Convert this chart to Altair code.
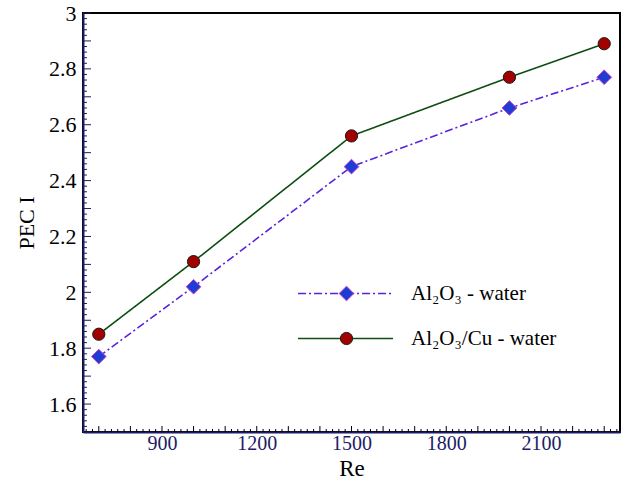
import altair as alt
import pandas as pd

# Reynolds numbers and PEC I values for both nanofluids
re_values = [700, 1000, 1500, 2000, 2300]
pec_al2o3 = [1.77, 2.02, 2.45, 2.66, 2.77]
pec_hybrid = [1.85, 2.11, 2.56, 2.77, 2.89]
series_names = ["Al₂O₃ - water", "Al₂O₃/Cu - water"]

# axis labels
x_labels = [900, 1200, 1500, 1800, 2100]
y_labels = [1.6, 1.8, 2.0, 2.2, 2.4, 2.6, 2.8, 3.0]

# inward tick marks (major / minor)
x_major = list(range(700, 2301, 100))
x_minor = [v for v in range(660, 2350, 20) if v % 100]
y_major = [round(1.5 + 0.1 * i, 2) for i in range(16)]
y_minor = [round(1.5 + 0.02 * i, 2) for i in range(76) if i % 5]

rows = []
for name, vals in zip(series_names, [pec_al2o3, pec_hybrid]):
    for r, p in zip(re_values, vals):
        rows.append({"re": r, "pec": p, "series": name, "marker": name})
df = pd.DataFrame(rows)

W, H = 537, 419
FONT = "Liberation Serif"
NAVY = "#1c1c66"
DIAMOND = "M0,-1.2L1.2,0L0,1.2L-1.2,0Z"

xs = alt.Scale(domain=[650, 2350], nice=False, zero=False)
ys = alt.Scale(domain=[1.5, 3.0], nice=False, zero=False)

x_axis = alt.Axis(values=x_labels, title="Re", format="d", ticks=False, tickSize=0,
                  grid=False, labelColor=NAVY, labelFont=FONT, labelFontSize=20,
                  labelPadding=1, titleFont=FONT, titleFontSize=23,
                  titleFontWeight="normal", titleColor="black", titlePadding=4,
                  domainColor=NAVY, domainWidth=2)
y_axis = alt.Axis(values=y_labels, title="PEC I", format="~g", ticks=False, tickSize=0,
                  grid=False, labelColor="black", labelFont=FONT, labelFontSize=22,
                  labelPadding=7, titleFont=FONT, titleFontSize=22,
                  titleFontWeight="normal", titleColor="black", titlePadding=10,
                  domainColor=NAVY, domainWidth=2)


def y_ticks(values, length):
    return alt.Chart(pd.DataFrame({"v": values})).mark_rule(
        color=NAVY, strokeWidth=1).encode(
        y=alt.Y("v:Q", scale=ys, axis=y_axis),
        x=alt.value(0), x2=alt.value(length))


def x_ticks(values, length):
    return alt.Chart(pd.DataFrame({"v": values})).mark_rule(
        color="black", strokeWidth=1).encode(
        x=alt.X("v:Q", scale=xs, axis=x_axis),
        y=alt.value(H), y2=alt.value(H - length))


line_legend = alt.Legend(title=None, orient="none", legendX=252, legendY=270,
                         symbolType="M-7,0L7,0", symbolSize=184, symbolStrokeWidth=1.5,
                         labelFont=FONT, labelFontSize=21, labelColor="black",
                         labelOffset=55, rowPadding=23)
point_legend = alt.Legend(title=None, orient="none", legendX=253, legendY=270,
                          symbolSize=150, symbolStrokeWidth=1, labelFont=FONT,
                          labelFontSize=21, labelOpacity=0, labelOffset=55,
                          rowPadding=23)

lines = alt.Chart(df).mark_line(strokeWidth=1.6).encode(
    x=alt.X("re:Q", scale=xs, axis=x_axis),
    y=alt.Y("pec:Q", scale=ys, axis=y_axis),
    color=alt.Color("series:N", scale=alt.Scale(domain=series_names,
                                                range=["#5a22dc", "#0d4d12"]),
                    legend=line_legend),
    strokeDash=alt.StrokeDash("series:N", scale=alt.Scale(domain=series_names,
                                                          range=[[8, 3, 2, 3], [1, 0]]),
                              legend=line_legend),
)

points = alt.Chart(df).mark_point(filled=True, size=150, opacity=1, strokeWidth=1).encode(
    x=alt.X("re:Q", scale=xs, axis=x_axis),
    y=alt.Y("pec:Q", scale=ys, axis=y_axis),
    shape=alt.Shape("marker:N", scale=alt.Scale(range=[DIAMOND, "circle"]),
                    legend=point_legend),
    fill=alt.Fill("marker:N", scale=alt.Scale(range=["#1f3dd2", "#a30000"]),
                  legend=point_legend),
    stroke=alt.Stroke("marker:N", scale=alt.Scale(range=["#d040d0", "#1a1a1a"]),
                      legend=point_legend),
)

chart = alt.layer(
    lines,
    y_ticks(y_minor, 4), y_ticks(y_major, 8),
    x_ticks(x_minor, 3), x_ticks(x_major, 6),
    points,
).properties(
    width=W, height=H,
    padding={"left": 83, "top": 13, "right": 7, "bottom": 50},
    autosize=alt.AutoSizeParams(type="none"),
    background="white",
).configure(
    font=FONT,
    style={"guide-label": {"font": FONT}, "guide-title": {"font": FONT}},
).configure_view(
    stroke="black", strokeWidth=2
).configure_axis(
    labelFont=FONT, titleFont=FONT
).configure_legend(
    labelFont=FONT
)

chart.save("out.html", embed_options={"renderer": "svg", "actions": False})
